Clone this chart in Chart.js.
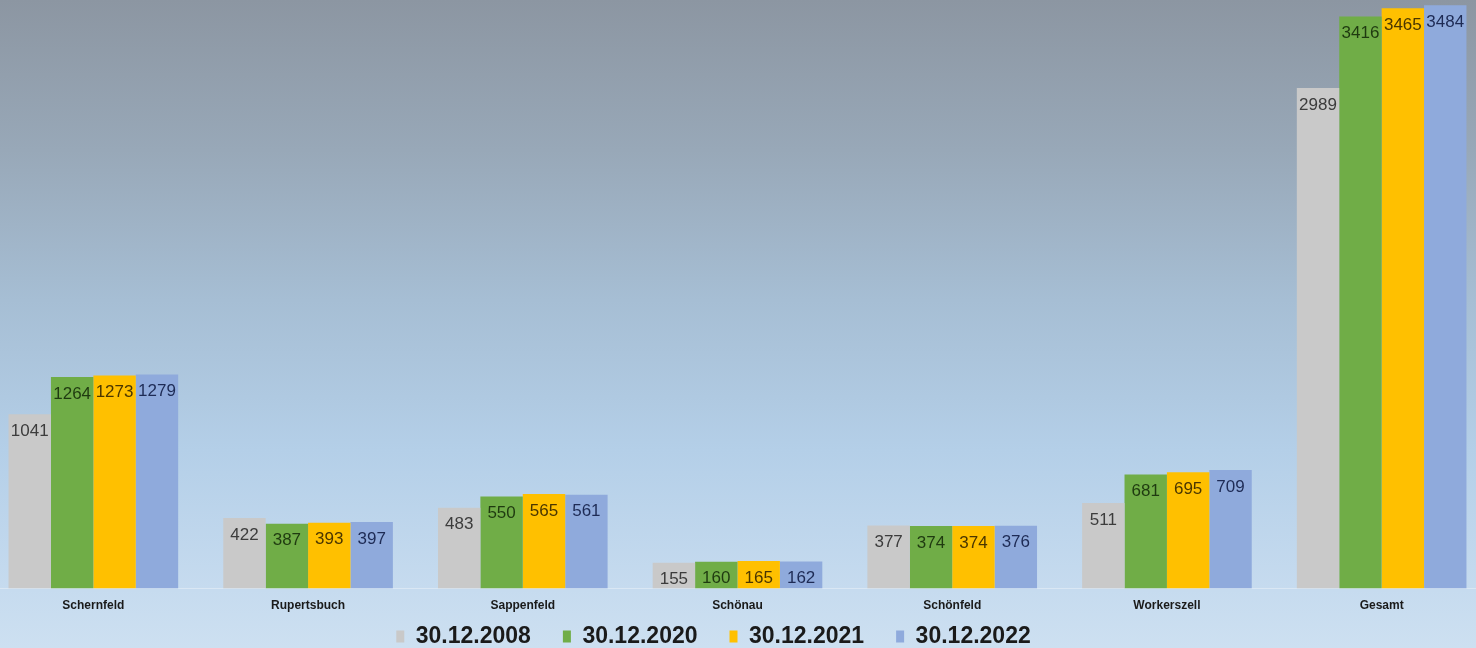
<!DOCTYPE html>
<html>
<head>
<meta charset="utf-8">
<script src="https://cdn.jsdelivr.net/npm/chart.js@4.4.0/dist/chart.umd.min.js"></script>
<style>
    html, body {
        margin: 0;
        padding: 0;
        width: 1476px;
        height: 648px;
        overflow: hidden;
        background: linear-gradient(to bottom, #8c96a2 0px, #98a8b8 150px, #a6bed4 300px, #b4cfe8 450px, #c6dbef 590px, #cde0f1 648px);
    }
    #wrap {
        position: absolute;
        left: -14px;
        top: 0;
        width: 1503px;
        height: 648px;
    }
</style>
</head>
<body>
<div id="wrap"><canvas id="chart"></canvas></div>
<script>
const categories = ['Schernfeld', 'Rupertsbuch', 'Sappenfeld', 'Schönau', 'Schönfeld', 'Workerszell', 'Gesamt'];
const seriesNames = ['30.12.2008', '30.12.2020', '30.12.2021', '30.12.2022'];
const values2008 = [1041, 422, 483, 155, 377, 511, 2989];
const values2020 = [1264, 387, 550, 160, 374, 681, 3416];
const values2021 = [1273, 393, 565, 165, 374, 695, 3465];
const values2022 = [1279, 397, 561, 162, 376, 709, 3484];

const barColors = ['#c9c9c9', '#70ad47', '#ffc000', '#8faadc'];
const labelColors = ['#3c3c3c', '#1f3a10', '#4a3600', '#1e2b55'];

// value labels just under the top of each bar
const barLabels = {
    id: 'barLabels',
    afterDatasetsDraw(chart) {
        const ctx = chart.ctx;
        ctx.save();
        ctx.font = '17px "Liberation Sans", Arial, sans-serif';
        ctx.textAlign = 'center';
        ctx.textBaseline = 'middle';
        chart.data.datasets.forEach((ds, i) => {
            const meta = chart.getDatasetMeta(i);
            ctx.fillStyle = labelColors[i];
            meta.data.forEach((bar, j) => {
                ctx.fillText(ds.data[j], bar.x, bar.y + 17);
            });
        });
        ctx.restore();
    }
};

// legend sits lower and a bit left of the canvas centre in the original
const legendShift = {
    id: 'legendShift',
    afterLayout(chart) {
        const lg = chart.legend;
        lg.left -= 24;
        lg.right -= 24;
        lg.top = 593;
        lg.bottom = chart.height;
        lg.height = lg.bottom - lg.top;
    }
};

new Chart(document.getElementById('chart').getContext('2d'), {
    type: 'bar',
    data: {
        labels: categories,
        datasets: [
            { label: seriesNames[0], data: values2008, backgroundColor: barColors[0] },
            { label: seriesNames[1], data: values2020, backgroundColor: barColors[1] },
            { label: seriesNames[2], data: values2021, backgroundColor: barColors[2] },
            { label: seriesNames[3], data: values2022, backgroundColor: barColors[3] }
        ]
    },
    options: {
        responsive: true,
        maintainAspectRatio: false,
        animation: false,
        layout: { padding: 0 },
        datasets: {
            bar: { categoryPercentage: 0.79, barPercentage: 1.0, borderWidth: 0 }
        },
        scales: {
            x: {
                grid: { display: false, drawTicks: false },
                border: { display: true, color: 'rgba(255,255,255,0.35)' },
                ticks: {
                    color: '#1a1a1a',
                    padding: 10,
                    font: { family: '"Liberation Sans", Arial, sans-serif', size: 12, weight: 'bold' }
                }
            },
            y: {
                display: false,
                min: 0,
                max: 3515
            }
        },
        plugins: {
            legend: {
                position: 'bottom',
                maxHeight: 25,
                labels: {
                    color: '#1a1a1a',
                    boxWidth: 8,
                    boxHeight: 12,
                    padding: 32,
                    font: { family: '"Liberation Sans", Arial, sans-serif', size: 23, weight: 'bold' }
                }
            },
            tooltip: { enabled: false }
        }
    },
    plugins: [barLabels, legendShift]
});
</script>
</body>
</html>
